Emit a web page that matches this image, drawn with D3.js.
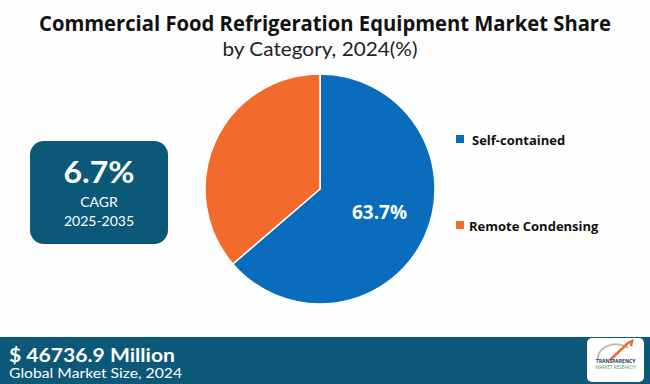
<!DOCTYPE html>
<html><head><meta charset="utf-8">
<script src="https://cdn.jsdelivr.net/npm/d3@7"></script>
<style>html,body{margin:0;padding:0;background:#fefefe;}svg{display:block;}</style>
</head><body>
<svg id="c" width="650" height="384"></svg>
<script>
const categories = ["Self-contained", "Remote Condensing"];
const values = [63.7, 36.3];
const colors = ["#0a6cbc", "#f26b2d"];
const title = "Commercial Food Refrigeration Equipment Market Share";
const subtitle = "by Category, 2024(%)";
const cagr = "6.7%";
const marketSize = "$ 46736.9 Million";

const svg = d3.select("#c");
svg.append("rect").attr("width",650).attr("height",384).attr("fill","#fefefe");

svg.append("text").attr("x",325).attr("y",31).attr("text-anchor","middle")
  .attr("font-family","Open Sans, sans-serif").attr("font-weight","bold").attr("font-size",21)
  .attr("fill","#111").attr("textLength",572).attr("lengthAdjust","spacingAndGlyphs").text(title);
svg.append("text").attr("x",320).attr("y",56).attr("text-anchor","middle")
  .attr("font-family","Lato, sans-serif").attr("font-size",19).attr("fill","#222")
  .attr("textLength",195).attr("lengthAdjust","spacingAndGlyphs").text(subtitle);

// pie
const cx = 320, cy = 189, r = 115;
const pie = d3.pie().sort(null).value(d=>d)(values);
const arc = d3.arc().innerRadius(0).outerRadius(r);
const g = svg.append("g").attr("transform",`translate(${cx},${cy})`);
g.selectAll("path").data(pie).enter().append("path")
  .attr("d",arc).attr("fill",(d,i)=>colors[i]).attr("stroke","#fff").attr("stroke-width",1.5);
const lblArc = d3.arc().innerRadius(r*0.55).outerRadius(r*0.55);
g.append("text").datum(pie[0]).attr("transform",d=>{const c=lblArc.centroid(d);return `translate(${c[0]+2},${c[1]+4})`;})
  .attr("text-anchor","middle").attr("font-family","Open Sans, sans-serif").attr("font-weight","bold")
  .attr("font-size",19).attr("fill","#fff").text(values[0].toFixed(1)+"%");

// legend
const ly = [140, 226];
categories.forEach((c,i)=>{
  svg.append("rect").attr("x",456).attr("y",ly[i]-5).attr("width",8).attr("height",8).attr("fill",colors[i]);
  svg.append("text").attr("x",i==0?472:469).attr("y",ly[i]+5).attr("font-family","Open Sans, sans-serif")
    .attr("font-weight","bold").attr("font-size",13).attr("fill","#111").text(c);
});

// CAGR box
svg.append("rect").attr("x",30).attr("y",141).attr("width",138).attr("height",103).attr("rx",14).attr("fill","#0b5878");
svg.append("text").attr("x",99).attr("y",183).attr("text-anchor","middle").attr("font-family","Lato, sans-serif")
  .attr("font-weight","bold").attr("font-size",31).attr("fill","#fff").attr("textLength",71).attr("lengthAdjust","spacingAndGlyphs").text(cagr);
svg.append("text").attr("x",99).attr("y",207).attr("text-anchor","middle").attr("font-family","Lato, sans-serif")
  .attr("font-size",14).attr("fill","#fff").text("CAGR");
svg.append("text").attr("x",99).attr("y",226).attr("text-anchor","middle").attr("font-family","Lato, sans-serif")
  .attr("font-size",14).attr("fill","#fff").text("2025-2035");

// bottom band
svg.append("rect").attr("x",0).attr("y",337).attr("width",650).attr("height",47).attr("fill","#0b5878");
svg.append("text").attr("x",9).attr("y",362).attr("font-family","Lato, sans-serif").attr("font-weight","bold")
  .attr("font-size",18).attr("fill","#fff").attr("textLength",166).attr("lengthAdjust","spacingAndGlyphs").text(marketSize);
svg.append("text").attr("x",9).attr("y",378).attr("font-family","Lato, sans-serif")
  .attr("font-size",13.5).attr("fill","#fff").attr("textLength",173).attr("lengthAdjust","spacingAndGlyphs").text("Global Market Size, 2024");

// logo
const lg = svg.append("g");
lg.append("rect").attr("x",587).attr("y",338).attr("width",57).attr("height",44).attr("rx",5).attr("fill","#fff");
lg.append("path").attr("d","M598,360 A18,14 0 0 1 628,348").attr("fill","none").attr("stroke","#bbb").attr("stroke-width",2);
lg.append("path").attr("d","M610,360 L628,343 L632,341 L631,346").attr("fill","none").attr("stroke","#f26b2d").attr("stroke-width",2.5);
lg.append("text").attr("x",615.5).attr("y",363).attr("text-anchor","middle").attr("font-family","Open Sans, sans-serif")
  .attr("font-weight","bold").attr("font-size",5).attr("fill","#1a3b5c").text("TRANSPARENCY");
lg.append("text").attr("x",615.5).attr("y",369).attr("text-anchor","middle").attr("font-family","Open Sans, sans-serif")
  .attr("font-size",4.5).attr("fill","#4a9a7a").text("MARKET RESEARCH");
</script>
</body></html>
